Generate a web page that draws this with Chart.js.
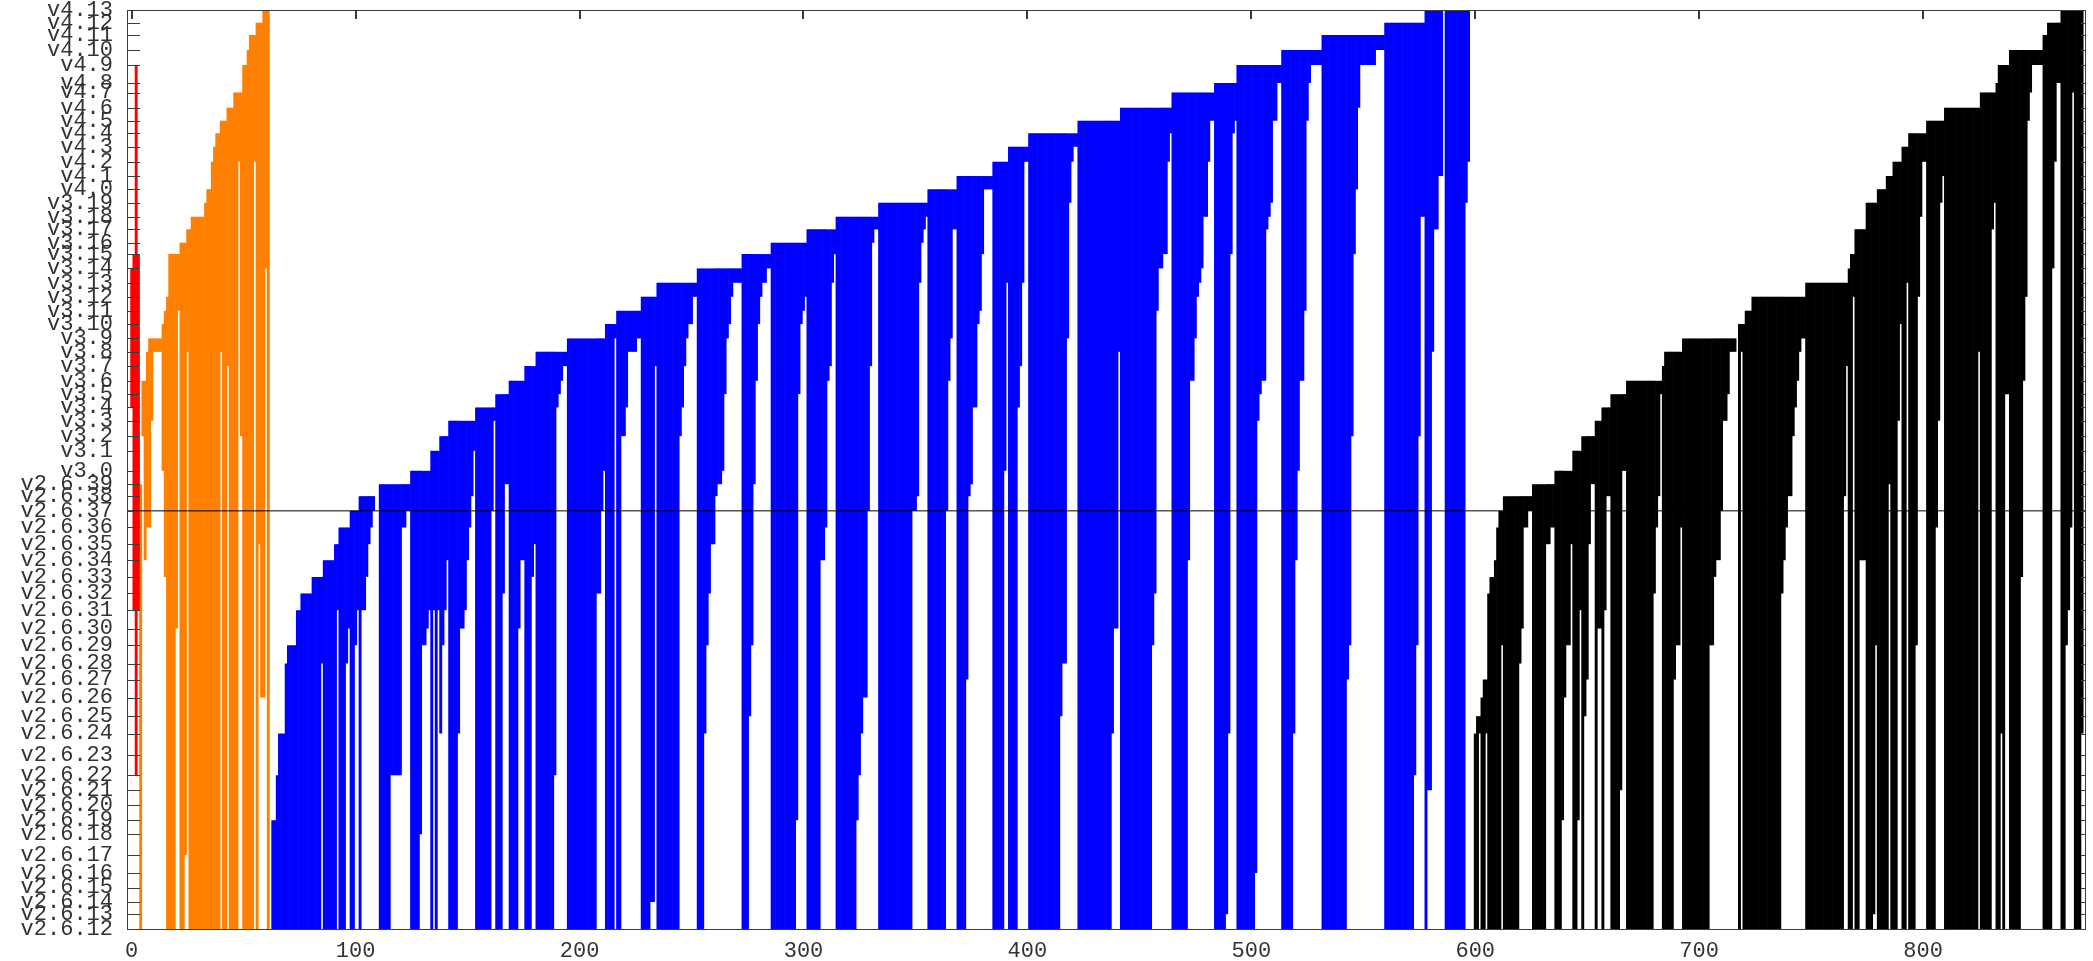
<!DOCTYPE html>
<html><head><meta charset="utf-8">
<script src="https://cdn.jsdelivr.net/npm/chart.js@4.4.1/dist/chart.umd.min.js"></script>
<style>html,body{margin:0;padding:0;background:#fff;overflow:hidden}</style>
</head><body>
<canvas id="c" width="2093" height="961"></canvas>
<script>
// ---- version axis (tick labels and their positions on the release axis) ----
const versionLabels = [
 'v2.6.12','v2.6.13','v2.6.14','v2.6.15','v2.6.16','v2.6.17','v2.6.18','v2.6.19','v2.6.20','v2.6.21',
 'v2.6.22','v2.6.23','v2.6.24','v2.6.25','v2.6.26','v2.6.27','v2.6.28','v2.6.29','v2.6.30','v2.6.31',
 'v2.6.32','v2.6.33','v2.6.34','v2.6.35','v2.6.36','v2.6.37','v2.6.38','v2.6.39',
 'v3.0','v3.1','v3.2','v3.3','v3.4','v3.5','v3.6','v3.7','v3.8','v3.9','v3.10','v3.11','v3.12','v3.13',
 'v3.14','v3.15','v3.16','v3.17','v3.18','v3.19',
 'v4.0','v4.1','v4.2','v4.3','v4.4','v4.5','v4.6','v4.7','v4.8','v4.9','v4.10','v4.11','v4.12','v4.13'];
const versionPos = [
 0,14.7,27,41.4,56,73.7,94.7,108.7,123.7,138.7,153.7,173.7,195.4,212.7,231.4,249.4,265.4,283.7,300.4,318.7,
 335.4,352,368.7,384.7,401.4,418,432.7,444.7,
 458,478,492.7,508,521.4,534.7,548,562.7,577,590.4,604.7,618,632,646,660.4,674.7,686,699.4,712,726,
 739.4,752.7,767,782,795.4,808,821,836.2,845.7,863.7,878.7,893.7,906,918.7];
const xTickValues = [0,100,200,300,400,500,600,700,800];
const markerVersion = 25; // v2.6.37

// ---- bars: index into versionLabels for the low and high end of every bar ----
const redStart = 0;
const redLow  = [32,19,10,19];
const redHigh = [42,43,57,43];

const orangeStart = 4;
const orangeLow = [
 0,30,22,24,24,31,36,36,36,36,28,21,0,0,0,0,18,39,0,0,5,36,0,
 0,0,0,0,0,0,0,0,0,0,0,0,0,36,0,0,35,0,0,0,0,50,30,0,0,0,0,0,
 50,0,23,14,14,42,0];
const orangeHigh = [
 27,34,34,36,37,37,37,37,37,37,38,39,40,43,43,43,43,43,44,44,44,45,45,
 46,46,46,46,46,46,47,48,48,50,51,52,52,53,53,53,54,54,54,55,55,55,55,57,57,58,59,59,59,
 60,60,60,61,61,61,61];

const blueStart = 63;
const blueLow = [
 0,0,0,0,0,0,0,0,0,0,0,0,0,0,0,0,0,0,0,0,0,0,
 16,0,0,0,0,0,0,19,0,0,0,16,18,0,0,17,19,0,19,19,21,23,24,25,null,null,
 0,0,0,0,0,10,10,10,10,10,24,24,25,25,0,0,0,0,6,17,17,18,19,0,19,0,19,12,17,19,22,
 0,0,0,0,12,18,18,19,22,24,26,29, 0,0,0,0,0,0,0,25,31, 0,0,0,20,27,27, 0,0,0,0,18,22,22, 0,0,0,21,23, 0,0,0,0,0,0,0,0,10,32,33,34,35,35,
 0,0,0,0,0,0,0,0,0,0,0,0,0,20,20,25,28, 0,0,0,0,37, 0,0,30,30,32,36,36,36,36,37,37, 0,0,0,0,2,2,35, 0,0,0,0,0,0,0,0,0,0,30,32,35,37,38,38,40,40,
 0,0,0,12,17,20,23,23,26,27,27,28,33,37,38,40,41,41,41,41, 0,0,0,13,17,27,34,38,40,41,41,42,42, 0,0,0,0,0,0,0,0,0,0,0,7,33,38,39,40,
 0,0,0,0,0,0,22,22,24,34,35,41,43, 0,0,0,0,0,0,0,0,0,7,10,12,14,14,25,35,44,45,45, 0,0,0,0,0,0,0,0,0,0,0,0,0,0,0,25,25,26,41,44,45,46,
 0,0,0,0,0,0,0,0,25,34,37,45,45, 0,0,0,0,15,26,27,32,32,38,39,43,48,48,48,48, 0,0,0,0,0,28,41, 0,0,0,0,32,35,41,50,50,
 0,0,0,0,0,0,0,0,0,0,0,0,0,0,13,16,16,37,47,50,51,51, 0,0,0,0,0,0,0,0,0,0,0,0,0,0,0,12,18,18,36, 0,0,0,0,0,0,0,0,0,0,0,0,0,0,17,20,39,42,42,43,43,50,52,
 0,0,0,0,0,0,0,22,34,34,37,40,41,42,46,46,50,53,53, 0,0,0,0,0,1,12,43,52,53, 0,0,0,0,0,0,0,0,4,31,33,34,34,45,46,47,53,53,56,56, 0,0,0,0,0,12,22,28,34,34,39,53,56,57,57,57,57,57,
 0,0,0,0,0,0,0,0,0,0,0,15,17,30,43,48,54,57,57,57,57,57,57,57,58,58,58,58, 0,0,0,0,0,0,0,0,0,0,0,0,0,10,17,30,46,46, 0,9,9,36,45,45,49,49, null, 0,0,0,0,0,0,0,0,0,47,50];
const blueHigh = [
 7,7,10,12,12,12,16,17,17,17,17,19,19,20,20,20,20,20,21,21,21,21,
 21,22,22,22,22,22,23,23,24,24,24,24,24,25,25,25,25,26,26,26,26,26,26,26,null,null,
 27,27,27,27,27,27,27,27,27,27,27,27,27,27, 28,28,28,28,28,28,28,28,28, 29,29,29,29, 30,30,30,30,
 31,31,31,31,31,31,31,31,31,31,31,31, 32,32,32,32,32,32,32,32,32, 33,33,33,33,33,33, 34,34,34,34,34,34,34, 35,35,35,35,35, 36,36,36,36,36,36,36,36,36,36,36,36,36,36,
 37,37,37,37,37,37,37,37,37,37,37,37,37,37,37,37,37, 38,38,38,38,38, 39,39,39,39,39,39,39,39,39,39,39, 40,40,40,40,40,40,40, 41,41,41,41,41,41,41,41,41,41,41,41,41,41,41,41,41,41,
 42,42,42,42,42,42,42,42,42,42,42,42,42,42,42,42,42,42,42,42, 43,43,43,43,43,43,43,43,43,43,43,43,43, 44,44,44,44,44,44,44,44,44,44,44,44,44,44,44,44,
 45,45,45,45,45,45,45,45,45,45,45,45,45, 46,46,46,46,46,46,46,46,46,46,46,46,46,46,46,46,46,46,46, 47,47,47,47,47,47,47,47,47,47,47,47,47,47,47,47,47,47,47,47,47,47,
 48,48,48,48,48,48,48,48,48,48,48,48,48, 49,49,49,49,49,49,49,49,49,49,49,49,49,49,49,49, 50,50,50,50,50,50,50, 51,51,51,51,51,51,51,51,51,
 52,52,52,52,52,52,52,52,52,52,52,52,52,52,52,52,52,52,52,52,52,52, 53,53,53,53,53,53,53,53,53,53,53,53,53,53,53,53,53,53,53, 54,54,54,54,54,54,54,54,54,54,54,54,54,54,54,54,54,54,54,54,54,54,54,
 55,55,55,55,55,55,55,55,55,55,55,55,55,55,55,55,55,55,55, 56,56,56,56,56,56,56,56,56,56, 57,57,57,57,57,57,57,57,57,57,57,57,57,57,57,57,57,57,57,57, 58,58,58,58,58,58,58,58,58,58,58,58,58,58,58,58,58,58,
 59,59,59,59,59,59,59,59,59,59,59,59,59,59,59,59,59,59,59,59,59,59,59,59,59,59,59,59, 60,60,60,60,60,60,60,60,60,60,60,60,60,60,60,60,60,60, 61,61,61,61,61,61,61,61, null, 61,61,61,61,61,61,61,61,61,61,61];

const blackStart = 598;
const blackLow = [
 null,null,0,0,12,0,0,12,0,0,0,0,0,0,17,
 0,0,0,0,0,0,0,16,18,24,24,25,25,
 0,0,0,0,0,0,23,23,24,24,
 0,0,0,7,14,17,17,23,
 0,0,7,19,
 0,13,15,23,27,27,
 0,18,18,
 0,19,26,26,
 0,0,0,0,9,28,28,
 0,0,0,0,0,0,0,0,0,0,0,0,20,24,26,33,
 0,
 0,0,0,0,15,17,17,24,
 0,0,0,0,0,0,0,0,0,0,0,0,17,17,21,22,22,25,31,31,33,36,36,36,
 null,
 0,36,0,
 0,0,0,
 0,0,0,0,0,0,0,0,0,0,0,0,0,20,22,24,26,26,30,32,34,36,37,37,
 0,0,0,0,0,0,0,0,0,0,0,0,0,0,0,0,0,26,35,
 0,
 0,40,
 0,0,22,22,22,
 0,0,0,1,17,
 0,0,0,0,
 0,27,0,
 0,0,31,38,
 0,0,41,
 0,0,0,17,40,46,50,50,
 0,0,0,0,24,31,47,49,
 0,0,0,0,0,0,0,0,0,0,0,0,0,0,0,36,
 0,0,0,0,0,45,47,
 0,
 0,12,0,33,33,
 0,0,0,0,0,21,34,40,53,55,57,57,57,57,57,
 0,0,
 0,0,42,50,56,56,
 0,0,17,19,24,55,0,0,0,12];
const blackHigh = [
 null,null,12,13,13,14,15,15,20,21,21,22,24,25,25,
 26,26,26,26,26,26,26,26,26,26,26,26,26,
 27,27,27,27,27,27,27,27,27,27,
 28,28,28,28,28,28,28,28,
 29,29,29,29,
 30,30,30,30,30,30,
 31,31,31,
 32,32,32,32,
 33,33,33,33,33,33,33,
 34,34,34,34,34,34,34,34,34,34,34,34,34,34,34,34,
 35,
 36,36,36,36,36,36,36,36,
 37,37,37,37,37,37,37,37,37,37,37,37,37,37,37,37,37,37,37,37,37,37,37,37,
 null,
 38,38,38,
 39,39,39,
 40,40,40,40,40,40,40,40,40,40,40,40,40,40,40,40,40,40,40,40,40,40,40,40,
 41,41,41,41,41,41,41,41,41,41,41,41,41,41,41,41,41,41,41,
 42,
 43,43,
 45,45,45,45,45,
 47,47,47,47,47,
 48,48,48,48,
 49,49,49,
 50,50,50,50,
 51,51,51,
 52,52,52,52,52,52,52,52,
 53,53,53,53,53,53,53,53,
 54,54,54,54,54,54,54,54,54,54,54,54,54,54,54,54,
 55,55,55,55,55,55,55,
 56,
 57,57,57,57,57,
 58,58,58,58,58,58,58,58,58,58,58,58,58,58,58,
 59,59,
 60,60,60,60,60,60,
 61,61,61,61,61,61,61,61,61,61];

// ---- build chart data from the arrays ----
function toBars(start, lows, highs) {
  const out = [];
  lows.forEach((lo, i) => {
    const hi = highs[i];
    if (lo === null || hi === null || hi === undefined) return;
    out.push({ x: start + i, y: [versionPos[lo], versionPos[hi]] });
  });
  return out;
}
function barSet(data, color) {
  return { type: 'bar', data, backgroundColor: color, borderWidth: 0, grouped: false,
           barPercentage: 1.3, categoryPercentage: 1, order: 2 };
}

const X_MIN = -2.1, X_MAX = 872.3;
const tickFont = { family: "'Liberation Mono', 'DejaVu Sans Mono', monospace", size: 22 };

const framePlugin = {
  id: 'frame',
  afterDatasetsDraw(chart) {
    const { ctx, chartArea: a, scales } = chart;
    const x = scales.x, y = scales.y;
    ctx.save();
    ctx.strokeStyle = '#3c3c3c';
    ctx.lineWidth = 1;
    ctx.beginPath();
    y.ticks.forEach(t => {
      const py = Math.round(y.getPixelForValue(t.value)) + 0.5;
      ctx.moveTo(a.left, py); ctx.lineTo(a.left + 13, py);
      ctx.moveTo(a.right, py); ctx.lineTo(a.right - 4, py);
    });
    ctx.stroke();
    ctx.lineWidth = 2;
    ctx.beginPath();
    x.ticks.forEach(t => {
      const px = Math.round(x.getPixelForValue(t.value));
      ctx.moveTo(px, a.top); ctx.lineTo(px, a.top + 9);
    });
    ctx.stroke();
    ctx.lineWidth = 1;
    ctx.strokeRect(Math.round(a.left) + 0.5, Math.round(a.top) + 0.5,
                   Math.round(a.right - a.left), Math.round(a.bottom - a.top));
    ctx.restore();
  }
};

new Chart(document.getElementById('c'), {
  type: 'bar',
  data: {
    datasets: [
      { type: 'line', data: [{ x: X_MIN, y: versionPos[markerVersion] }, { x: X_MAX, y: versionPos[markerVersion] }],
        borderColor: '#000', borderWidth: 1, pointRadius: 0, order: 0 },
      barSet(toBars(redStart, redLow, redHigh), '#ff0000'),
      barSet(toBars(orangeStart, orangeLow, orangeHigh), '#ff8000'),
      barSet(toBars(blueStart, blueLow, blueHigh), '#0000ff'),
      barSet(toBars(blackStart, blackLow, blackHigh), '#000000')
    ]
  },
  options: {
    responsive: false,
    animation: false,
    devicePixelRatio: 1,
    layout: { padding: { top: 10, right: 8, left: 0, bottom: 0 } },
    plugins: { legend: { display: false }, tooltip: { enabled: false } },
    scales: {
      x: {
        type: 'linear', min: X_MIN, max: X_MAX, offset: false,
        grid: { display: false, drawTicks: false }, border: { display: false },
        afterBuildTicks: s => { s.ticks = xTickValues.map(v => ({ value: v })); },
        afterFit: s => { s.height = 32; s.paddingLeft = 0; s.paddingRight = 0; },
        ticks: { autoSkip: false, maxRotation: 0, padding: 9, color: '#333', font: tickFont,
                 callback: v => String(v) }
      },
      y: {
        type: 'linear', min: 0, max: versionPos[versionPos.length - 1],
        grid: { display: false, drawTicks: false }, border: { display: false },
        afterBuildTicks: s => { s.ticks = versionPos.map(v => ({ value: v })); },
        afterFit: s => { s.width = 127; s.paddingTop = 0; s.paddingBottom = 0; },
        ticks: { autoSkip: false, padding: 14, color: '#333', font: tickFont,
                 callback: (v, i) => versionLabels[i] }
      }
    }
  },
  plugins: [framePlugin]
});
</script>
</body></html>
